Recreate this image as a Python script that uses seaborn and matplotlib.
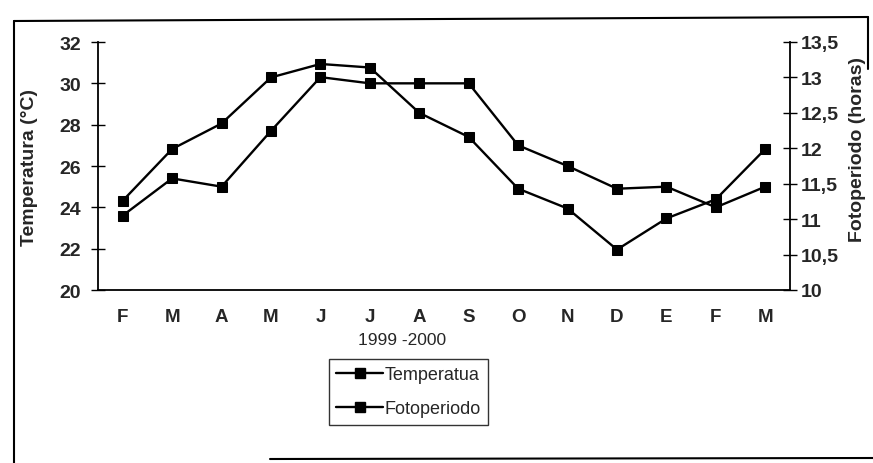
import matplotlib
matplotlib.use("Agg")
import matplotlib.pyplot as plt
from matplotlib.lines import Line2D
import seaborn as sns
import pandas as pd

months = ["F", "M", "A", "M", "J", "J", "A", "S", "O", "N", "D", "E", "F", "M"]
temperatura = [23.6, 25.4, 25.0, 27.7, 30.3, 30.0, 30.0, 30.0, 27.0, 26.0, 24.9, 25.0, 24.0, 25.0]
fotoperiodo = [11.26, 11.99, 12.35, 13.0, 13.19, 13.14, 12.5, 12.16, 11.43, 11.15, 10.57, 11.01, 11.28, 11.99]
left_ticks = [20, 22, 24, 26, 28, 30, 32]
right_ticks = [10, 10.5, 11, 11.5, 12, 12.5, 13, 13.5]
right_labels = ["10", "10,5", "11", "11,5", "12", "12,5", "13", "13,5"]

sns.set_style("white")
plt.rcParams["font.family"] = ["Liberation Sans", "DejaVu Sans"]

W, H = 873, 464
fig = plt.figure(figsize=(W / 100, H / 100), dpi=100)
ax = fig.add_axes([98 / W, 1 - 291 / H, (790 - 98) / W, (291 - 43) / H])
ax2 = ax.twinx()

df = pd.DataFrame({"idx": range(len(months)), "temp": temperatura, "foto": fotoperiodo})

style = dict(color="black", marker="s", markersize=7, linewidth=1.7,
             markeredgecolor="black", markerfacecolor="black")
sns.lineplot(data=df, x="idx", y="temp", ax=ax, **style)
sns.lineplot(data=df, x="idx", y="foto", ax=ax2, **style)

ax.set_xlim(-0.5, len(months) - 0.5)
ax.set_ylim(20, 32)
ax2.set_ylim(10, 13.5)

ax.set_xticks([i + 0.5 for i in range(-1, len(months))])
ax.set_xticklabels([])
ax.set_xticks(range(len(months)), months, minor=True)
ax.tick_params(axis="x", which="major", direction="inout", length=9, width=1, color="black")
ax.tick_params(axis="x", which="minor", length=0, pad=13, labelsize=13.5)
for t in ax.get_xticklabels(minor=True):
    t.set_fontweight("bold")

ax.set_yticks(left_ticks)
ax.set_yticklabels([str(v) for v in left_ticks], fontsize=14, fontweight="bold")
ax.tick_params(axis="y", direction="inout", length=10, width=1, color="black", pad=7, left=True)

ax2.set_yticks(right_ticks)
ax2.set_yticklabels(right_labels, fontsize=14, fontweight="bold")
ax2.tick_params(axis="y", direction="inout", length=10, width=1, color="black", pad=3, right=True)

ax.set_xlabel("")
ax.set_ylabel("")
ax2.set_ylabel("")
ax.grid(False)
ax2.grid(False)

for a in (ax, ax2):
    a.spines["top"].set_visible(False)
    for side in ("left", "bottom", "right"):
        a.spines[side].set_color("black")
        a.spines[side].set_linewidth(1.3)
ax.spines["right"].set_visible(False)
ax2.spines["left"].set_visible(False)
ax2.spines["bottom"].set_visible(False)

fig.text(30 / W, 1 - 168 / H, "Temperatura (°C)", rotation=90, ha="center", va="center",
         fontsize=14, fontweight="bold")
fig.text(858 / W, 1 - 150 / H, "Fotoperiodo (horas)", rotation=90, ha="center", va="center",
         fontsize=14, fontweight="bold")
fig.text(402 / W, 1 - 341 / H, "1999 -2000", ha="center", va="center", fontsize=12.5)

handles = [Line2D([], [], **style), Line2D([], [], **style)]
leg = fig.legend(handles, ["Temperatua", "Fotoperiodo"], loc="upper left",
                 bbox_to_anchor=(329 / W, 1 - 360 / H), borderaxespad=0, fontsize=13,
                 frameon=True, fancybox=False, edgecolor="black", handlelength=2.6,
                 handletextpad=0.1, labelspacing=0.95, borderpad=0.4)
leg.get_frame().set_linewidth(1.0)

# page frame of the scanned figure
fig.add_artist(Line2D([14 / W, 14 / W], [0, 1 - 22 / H], transform=fig.transFigure, color="black", lw=1.5))
fig.add_artist(Line2D([14 / W, 868 / W], [1 - 22 / H, 1 - 18 / H], transform=fig.transFigure, color="black", lw=1.5))
fig.add_artist(Line2D([868 / W, 868 / W], [1 - 18 / H, 1 - 70 / H], transform=fig.transFigure, color="black", lw=1.5))
fig.add_artist(Line2D([270 / W, 873 / W], [1 - 460 / H, 1 - 459 / H], transform=fig.transFigure, color="black", lw=1.5))

fig.savefig("out.png", dpi=100)
